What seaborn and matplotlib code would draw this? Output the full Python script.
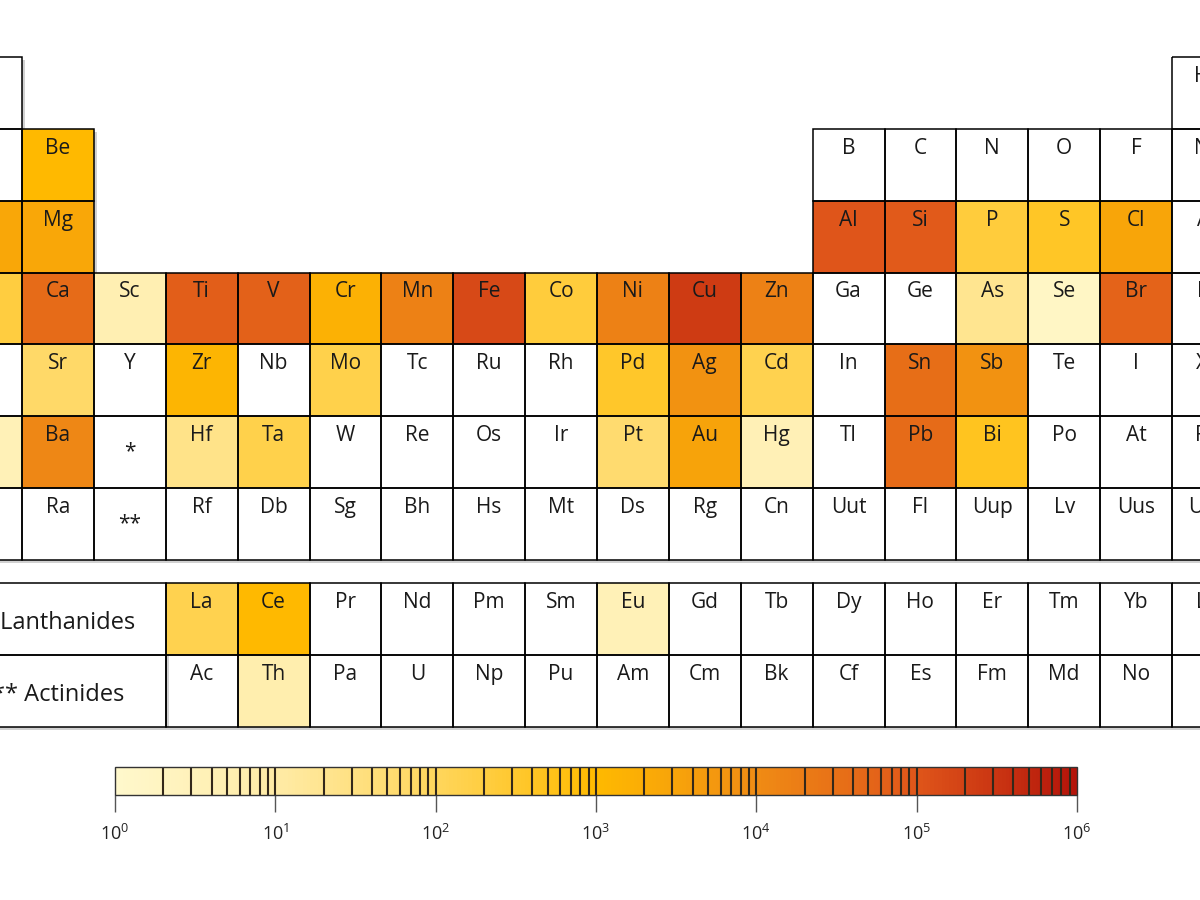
import matplotlib
matplotlib.use("Agg")
import matplotlib.pyplot as plt
import matplotlib.patheffects as pe
import numpy as np
import pandas as pd
import seaborn as sns
from matplotlib.colors import LinearSegmentedColormap, LogNorm
from matplotlib.patches import Rectangle

plt.rcParams['font.family'] = ['Open Sans', 'DejaVu Sans']

# periodic table layout, '' = no cell
main_rows = [
    ["H"] + [""] * 16 + ["He"],
    ["Li", "Be"] + [""] * 10 + ["B", "C", "N", "O", "F", "Ne"],
    ["Na", "Mg"] + [""] * 10 + ["Al", "Si", "P", "S", "Cl", "Ar"],
    ["K", "Ca", "Sc", "Ti", "V", "Cr", "Mn", "Fe", "Co", "Ni", "Cu", "Zn", "Ga", "Ge", "As", "Se", "Br", "Kr"],
    ["Rb", "Sr", "Y", "Zr", "Nb", "Mo", "Tc", "Ru", "Rh", "Pd", "Ag", "Cd", "In", "Sn", "Sb", "Te", "I", "Xe"],
    ["Cs", "Ba", "*", "Hf", "Ta", "W", "Re", "Os", "Ir", "Pt", "Au", "Hg", "Tl", "Pb", "Bi", "Po", "At", "Rn"],
    ["Fr", "Ra", "**", "Rf", "Db", "Sg", "Bh", "Hs", "Mt", "Ds", "Rg", "Cn", "Uut", "Fl", "Uup", "Lv", "Uus", "Uuo"],
]
lanthanides = ["La", "Ce", "Pr", "Nd", "Pm", "Sm", "Eu", "Gd", "Tb", "Dy", "Ho", "Er", "Tm", "Yb", "Lu"]
actinides = ["Ac", "Th", "Pa", "U", "Np", "Pu", "Am", "Cm", "Bk", "Cf", "Es", "Fm", "Md", "No", "Lr"]
f_labels = ["* Lanthanides", "** Actinides"]

# estimated log10 values
elements = ["Cu", "Fe", "Al", "Si", "Ti", "V", "Br", "Ca", "Pb", "Sn",
            "Mn", "Ni", "Zn", "Ba", "Ag", "Sb", "Au", "Cl", "Mg", "Na",
            "Cr", "Zr", "Be", "Ce", "Bi", "S", "Pd", "Co", "P", "K",
            "Mo", "Cd", "La", "Ta", "Sr", "Pt", "Hf", "As", "Th", "Sc",
            "Hg", "Eu", "Cs", "Se"]
log_amount = [5.4, 5.2, 5.0, 4.9, 4.85, 4.8, 4.75, 4.6, 4.6, 4.55,
              4.2, 4.2, 4.2, 4.1, 3.85, 3.85, 3.5, 3.45, 3.4, 3.4,
              3.2, 3.1, 3.0, 3.0, 2.65, 2.6, 2.55, 2.35, 2.35, 2.3,
              2.2, 2.15, 2.15, 2.2, 1.85, 1.75, 1.4, 1.3, 0.8, 0.7,
              0.6, 0.55, 0.55, 0.2]

cbar_ticks = [1, 10, 100, 1e3, 1e4, 1e5, 1e6]
cbar_labels = [r"$\mathregular{10^{%d}}$" % d for d in range(7)]

cmap = LinearSegmentedColormap.from_list(
    "prod", ["#FFF8CC", "#FFEBA6", "#FFD65C", "#FFBA00", "#F08C14", "#E0561A", "#B4140A"])
norm = LogNorm(vmin=1, vmax=1e6)

amount = dict(zip(elements, log_amount))
f_rows = [[""] * 3 + lanthanides, [""] * 3 + actinides]


def grid_values(rows):
    vals = np.full((len(rows), len(rows[0])), np.nan)
    for r, row in enumerate(rows):
        for c, sym in enumerate(row):
            if sym in amount:
                vals[r, c] = 10 ** amount[sym]
    return pd.DataFrame(vals)


W, H = 1200, 900
cell = 1150 / 16
x0 = 22 - cell


def frac(left, top, width, height):
    return [left / W, 1 - (top + height) / H, width / W, height / H]


fig = plt.figure(figsize=(12, 9), dpi=100)
ax_main = fig.add_axes(frac(x0, 57, 18 * cell, 503))
ax_f = fig.add_axes(frac(x0, 583, 18 * cell, 144))
ax_cb = fig.add_axes(frac(115, 767, 962, 28))

sns.heatmap(grid_values(main_rows), ax=ax_main, cmap=cmap, norm=norm,
            cbar=True, cbar_ax=ax_cb, cbar_kws={"orientation": "horizontal"},
            xticklabels=False, yticklabels=False)
sns.heatmap(grid_values(f_rows), ax=ax_f, cmap=cmap, norm=norm, cbar=False,
            xticklabels=False, yticklabels=False)

shadow = [pe.SimplePatchShadow(offset=(2.5, -2.5), shadow_rgbFace='0.6', alpha=0.45), pe.Normal()]
txt_kw = dict(ha='center', va='center', color='#1a1a1a', zorder=5)


def draw_cells(ax, rows):
    ax.collections[0].set_zorder(2)
    for r, row in enumerate(rows):
        for c, sym in enumerate(row):
            if not sym:
                continue
            ax.add_patch(Rectangle((c, r), 1, 1, fc='white', ec='none', zorder=1,
                                   clip_on=False, path_effects=shadow))
            ax.add_patch(Rectangle((c, r), 1, 1, fill=False, ec='black', lw=1.1,
                                   zorder=3, clip_on=False))
            if sym.startswith("*"):
                ax.text(c + 0.5, r + 0.5, sym, fontsize=15, **txt_kw)
            else:
                ax.text(c + 0.5, r + 0.27, sym, fontsize=15, **txt_kw)


draw_cells(ax_main, main_rows)
draw_cells(ax_f, f_rows)
for r, label in enumerate(f_labels):
    ax_f.add_patch(Rectangle((0, r), 3, 1, fc='white', ec='none', zorder=1,
                             clip_on=False, path_effects=shadow))
    ax_f.add_patch(Rectangle((0, r), 3, 1, fill=False, ec='black', lw=1.1,
                             zorder=3, clip_on=False))
    ax_f.text(1.5, r + 0.55, label, fontsize=17, **txt_kw)

for ax in (ax_main, ax_f):
    ax.set_axis_off()

cbar = ax_main.collections[0].colorbar
cbar.set_ticks(cbar_ticks)
cbar.set_ticklabels(cbar_labels)
cbar.ax.minorticks_off()
cbar.ax.tick_params(axis='x', length=12, width=1, color='#555555',
                    labelsize=13, labelcolor='#222222', pad=9)
for d in range(6):
    for k in range(1, 10):
        v = k * 10 ** d
        if 1 < v < 1e6:
            cbar.ax.axvline(v, color='#33281a', lw=1.5)
cbar.outline.set_edgecolor('#333333')
cbar.outline.set_linewidth(1)

fig.savefig("out.png", dpi=100)
